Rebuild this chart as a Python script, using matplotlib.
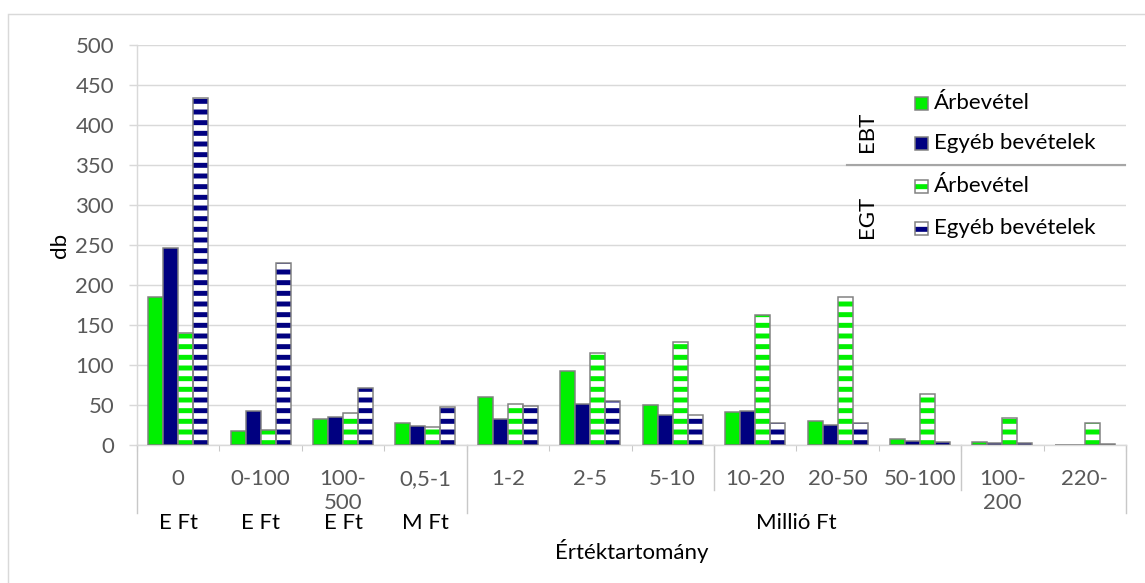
import matplotlib.pyplot as plt
from matplotlib.patches import Rectangle
import numpy as np

plt.rcParams['font.family'] = ['Lato', 'DejaVu Sans']
plt.rcParams['hatch.linewidth'] = 2.8

categories = ["0", "0-100", "100-\n500", "0,5-1", "1-2", "2-5", "5-10",
              "10-20", "20-50", "50-100", "100-\n200", "220-"]
units = ["E Ft", "E Ft", "E Ft", "M Ft"]
unit_millio = "Millió Ft"

ebt_arbevetel = [185, 17, 33, 28, 60, 93, 50, 41, 30, 7, 4, 0]
ebt_egyeb = [246, 43, 35, 24, 33, 51, 38, 42, 25, 5, 3, 0]
egt_arbevetel = [140, 19, 40, 23, 51, 115, 129, 163, 185, 64, 34, 27]
egt_egyeb = [434, 227, 71, 47, 49, 55, 38, 28, 27, 4, 3, 1]

green = '#00f000'
navy = '#000080'
edge = '#808080'
grid_c = '#d9d9d9'
sep_c = '#c8c8c8'
txt_grey = '#595959'
fs = 12.5

W, H, DPI = 1145, 583, 128
fig = plt.figure(figsize=(W / DPI, H / DPI), dpi=DPI)
ax = fig.add_axes([137 / W, 138 / H, 989 / W, 400 / H])

x = np.arange(len(categories))
w = 0.182

# solid bars (EBT)
ax.bar(x - 1.5 * w, ebt_arbevetel, w, color=green, edgecolor=edge, linewidth=0.85, zorder=3)
ax.bar(x - 0.5 * w, ebt_egyeb, w, color=navy, edgecolor=edge, linewidth=0.85, zorder=3)
# striped bars (EGT): hatch first, outline on top
ax.bar(x + 0.5 * w, egt_arbevetel, w, color='white', edgecolor=green, hatch='--', linewidth=0, zorder=3)
ax.bar(x + 0.5 * w, egt_arbevetel, w, color='none', edgecolor=edge, linewidth=0.85, zorder=4)
ax.bar(x + 1.5 * w, egt_egyeb, w, color='white', edgecolor=navy, hatch='--', linewidth=0, zorder=3)
ax.bar(x + 1.5 * w, egt_egyeb, w, color='none', edgecolor=edge, linewidth=0.85, zorder=4)

ax.set_xlim(-0.5, len(categories) - 0.5)
ax.set_ylim(0, 500)
ax.set_yticks(np.arange(0, 501, 50))
ax.yaxis.grid(True, color=grid_c, linewidth=0.8, zorder=0)
ax.set_axisbelow(True)

for s in ['top', 'right']:
    ax.spines[s].set_visible(False)
ax.spines['left'].set_color(grid_c)
ax.spines['bottom'].set_color(grid_c)

ax.tick_params(axis='y', length=4.5, color=grid_c, pad=8.4, labelsize=fs, labelcolor=txt_grey)
ax.set_xticks(x)
ax.set_xticklabels(categories, linespacing=1.25)
ax.tick_params(axis='x', which='major', length=0, pad=13.5, labelsize=fs, labelcolor=txt_grey)
ax.set_xticks(np.arange(len(categories) + 1) - 0.5, minor=True)
ax.tick_params(axis='x', which='minor', length=3.4, color=sep_c)

# long separators of the multi-level axis
for b, depth in [(-0.5, -0.17), (3.5, -0.17), (11.5, -0.17), (6.5, -0.1125), (9.5, -0.1125)]:
    ax.plot([b, b], [0, depth], color=sep_c, linewidth=0.8,
            transform=ax.get_xaxis_transform(), clip_on=False)

for i, u in enumerate(units):
    ax.text(i, -0.195, u, transform=ax.get_xaxis_transform(), ha='center', va='center',
            fontsize=fs, color='black')
ax.text((4 + len(categories) - 1) / 2, -0.195, unit_millio, transform=ax.get_xaxis_transform(),
        ha='center', va='center', fontsize=fs, color='black')

ax.set_xlabel('Értéktartomány', fontsize=fs, color='black')
ax.xaxis.set_label_coords(0.5, -0.265)
ax.xaxis.label.set_va('center')
ax.set_ylabel('db', fontsize=fs, color='black')
ax.yaxis.set_label_coords(-0.078, 0.5)
ax.yaxis.label.set_va('center')

# legend drawn by hand in axes fractions
def ax_x(px):
    return (px - 137) / 989

def ax_y(py):
    return (445 - py) / 400

legend_rows = [
    (103, 'Árbevétel', green, False),
    (143, 'Egyéb bevételek', navy, False),
    (186, 'Árbevétel', green, True),
    (228, 'Egyéb bevételek', navy, True),
]
sx, sy = 13 / 989, 13 / 400
for py, lab, col, striped in legend_rows:
    x0, y0 = ax_x(921) - sx / 2, ax_y(py) - sy / 2
    if striped:
        ax.add_patch(Rectangle((x0, y0), sx, sy, facecolor='white', edgecolor=col, hatch='--',
                               linewidth=0, transform=ax.transAxes, clip_on=False, zorder=5))
        ax.add_patch(Rectangle((x0, y0), sx, sy, facecolor='none', edgecolor=edge, linewidth=0.85,
                               transform=ax.transAxes, clip_on=False, zorder=6))
    else:
        ax.add_patch(Rectangle((x0, y0), sx, sy, facecolor=col, edgecolor=edge, linewidth=0.85,
                               transform=ax.transAxes, clip_on=False, zorder=5))
    ax.text(ax_x(934), ax_y(py), lab, transform=ax.transAxes, ha='left', va='center',
            fontsize=fs, color='black')

ax.text(ax_x(867), ax_y(132), 'EBT', rotation=90, transform=ax.transAxes, ha='center',
        va='center', fontsize=fs, color='black')
ax.text(ax_x(867), ax_y(217), 'EGT', rotation=90, transform=ax.transAxes, ha='center',
        va='center', fontsize=fs, color='black')
ax.plot([ax_x(847), ax_x(1125)], [ax_y(165), ax_y(165)], color='#a6a6a6', linewidth=1.2,
        transform=ax.transAxes, clip_on=False, zorder=5)

# outer chart frame (only left and top edges fall inside the picture)
fig.add_artist(Rectangle((8 / W, -0.1), 1.2, (H - 14) / H + 0.1, transform=fig.transFigure,
                         fill=False, edgecolor=grid_c, linewidth=0.8))

fig.savefig('out.png', dpi=DPI, facecolor='white')
